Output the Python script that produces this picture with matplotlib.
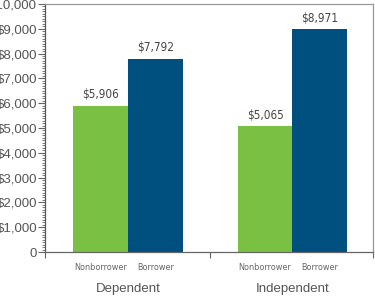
import matplotlib
matplotlib.use("Agg")
import matplotlib.pyplot as plt
from matplotlib.ticker import MultipleLocator, FuncFormatter
from matplotlib.transforms import blended_transform_factory

groups = ["Dependent", "Independent"]
bar_labels = ["Nonborrower", "Borrower", "Nonborrower", "Borrower"]
values = [5906, 7792, 5065, 8971]
value_texts = ["$5,906", "$7,792", "$5,065", "$8,971"]
positions = [0, 1, 3, 4]
colors = ["#7AC143", "#00507F", "#7AC143", "#00507F"]

fig = plt.figure(figsize=(3.75, 2.98), dpi=100)
ax = fig.add_axes([0.12, 0.154, 0.875, 0.833])

ax.bar(positions, values, width=1.0, color=colors, edgecolor="none")
ax.set_xlim(-1.01, 4.97)
ax.set_ylim(0, 10000)

for p, v, t in zip(positions, values, value_texts):
    ax.text(p, v + 170, t, ha="center", va="bottom", fontsize=8.5,
            color="#444444", family="DejaVu Sans", stretch="condensed")

ax.yaxis.set_major_locator(MultipleLocator(1000))
ax.yaxis.set_minor_locator(MultipleLocator(100))
ax.yaxis.set_major_formatter(FuncFormatter(lambda v, _: "0" if v == 0 else f"${int(v):,}"))
ax.tick_params(axis="y", which="major", length=5, width=0.8, color="#666666",
               labelsize=9.5, labelcolor="#555555", pad=0.5)
for lab in ax.get_yticklabels():
    lab.set_family("Liberation Sans")
ax.tick_params(axis="y", which="minor", length=2.5, width=0.6, color="#666666")

ax.set_xticks([-1.01, 2, 4.97])
ax.set_xticklabels([])
ax.tick_params(axis="x", which="major", length=4, width=0.8, color="#666666")

for s in ax.spines.values():
    s.set_color("#999999")
    s.set_linewidth(0.9)
ax.spines["left"].set_color("#555555")
ax.spines["bottom"].set_color("#666666")

trans = blended_transform_factory(ax.transData, ax.transAxes)
for p, lab in zip(positions, bar_labels):
    ax.text(p, -0.06, lab, transform=trans, ha="center", va="center",
            fontsize=6.5, color="#666666", family="DejaVu Sans", stretch="condensed")
for c, g in zip([0.5, 3.5], groups):
    ax.text(c, -0.15, g, transform=trans, ha="center", va="center",
            fontsize=9.5, color="#555555", family="Liberation Sans")

fig.savefig("out.png", dpi=100)
